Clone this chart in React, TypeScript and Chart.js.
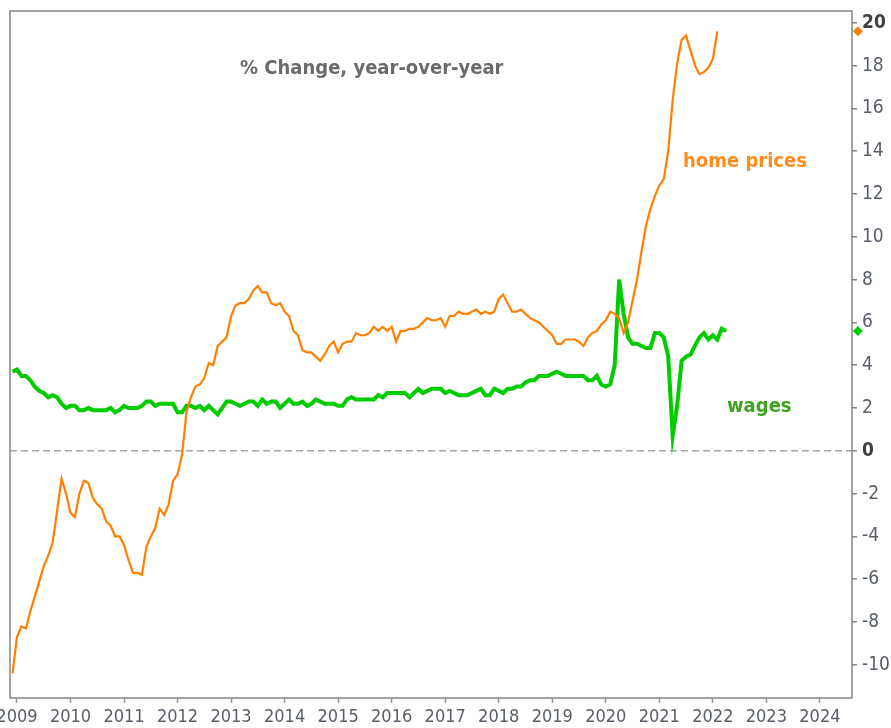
import React, { useEffect, useRef } from 'react';
import { Chart, registerables } from 'chart.js';

Chart.register(...registerables);

// ---- data (monthly, first point = Dec 2008) ----
const START_YEAR = 2008;
const START_MONTH = 12;

const homePrices: number[] = [
  -10.4, -8.7, -8.2, -8.3, -7.5, -6.8, -6.1, -5.4, -4.9, -4.3,
  -2.8, -1.3, -2.0, -2.9, -3.1, -2.0, -1.4, -1.5, -2.2, -2.5,
  -2.7, -3.3, -3.5, -4.0, -4.0, -4.4, -5.1, -5.7, -5.7, -5.8,
  -4.5, -4.0, -3.6, -2.7, -3.0, -2.5, -1.4, -1.1, -0.2, 1.8,
  2.5, 3.0, 3.1, 3.4, 4.1, 4.0, 4.9, 5.1, 5.3, 6.3,
  6.8, 6.9, 6.9, 7.1, 7.5, 7.7, 7.4, 7.4, 6.9, 6.8,
  6.9, 6.5, 6.3, 5.6, 5.4, 4.7, 4.6, 4.6, 4.4, 4.2,
  4.5, 4.9, 5.1, 4.6, 5.0, 5.1, 5.1, 5.5, 5.4, 5.4,
  5.5, 5.8, 5.6, 5.8, 5.6, 5.8, 5.1, 5.6, 5.6, 5.7,
  5.7, 5.8, 6.0, 6.2, 6.1, 6.1, 6.2, 5.8, 6.3, 6.3,
  6.5, 6.4, 6.4, 6.5, 6.6, 6.4, 6.5, 6.4, 6.5, 7.1,
  7.3, 6.9, 6.5, 6.5, 6.6, 6.4, 6.2, 6.1, 6.0, 5.8,
  5.6, 5.4, 5.0, 5.0, 5.2, 5.2, 5.2, 5.1, 4.9, 5.3,
  5.5, 5.6, 5.9, 6.1, 6.5, 6.4, 6.2, 5.5, 6.0, 7.0,
  8.0, 9.3, 10.5, 11.3, 11.9, 12.4, 12.7, 14.0, 16.4, 18.1,
  19.2, 19.4, 18.7, 18.0, 17.6, 17.7, 17.9, 18.3, 19.6,
];

const wages: number[] = [
  3.7, 3.8, 3.5, 3.5, 3.3, 3.0, 2.8, 2.7, 2.5, 2.6,
  2.5, 2.2, 2.0, 2.1, 2.1, 1.9, 1.9, 2.0, 1.9, 1.9,
  1.9, 1.9, 2.0, 1.8, 1.9, 2.1, 2.0, 2.0, 2.0, 2.1,
  2.3, 2.3, 2.1, 2.2, 2.2, 2.2, 2.2, 1.8, 1.8, 2.1,
  2.1, 2.0, 2.1, 1.9, 2.1, 1.9, 1.7, 2.0, 2.3, 2.3,
  2.2, 2.1, 2.2, 2.3, 2.3, 2.1, 2.4, 2.2, 2.3, 2.3,
  2.0, 2.2, 2.4, 2.2, 2.2, 2.3, 2.1, 2.2, 2.4, 2.3,
  2.2, 2.2, 2.2, 2.1, 2.1, 2.4, 2.5, 2.4, 2.4, 2.4,
  2.4, 2.4, 2.6, 2.5, 2.7, 2.7, 2.7, 2.7, 2.7, 2.5,
  2.7, 2.9, 2.7, 2.8, 2.9, 2.9, 2.9, 2.7, 2.8, 2.7,
  2.6, 2.6, 2.6, 2.7, 2.8, 2.9, 2.6, 2.6, 2.9, 2.8,
  2.7, 2.9, 2.9, 3.0, 3.0, 3.2, 3.3, 3.3, 3.5, 3.5,
  3.5, 3.6, 3.7, 3.6, 3.5, 3.5, 3.5, 3.5, 3.5, 3.3,
  3.3, 3.5, 3.1, 3.0, 3.1, 4.0, 8.0, 6.4, 5.3, 5.0,
  5.0, 4.9, 4.8, 4.8, 5.5, 5.5, 5.3, 4.4, 0.7, 2.1,
  4.2, 4.4, 4.5, 4.9, 5.3, 5.5, 5.2, 5.4, 5.2, 5.7, 5.6,
];

const yearTicks: number[] = [2009, 2010, 2011, 2012, 2013, 2014, 2015, 2016, 2017, 2018, 2019, 2020, 2021, 2022, 2023, 2024];
const valueTicks: number[] = [-10, -8, -6, -4, -2, 0, 2, 4, 6, 8, 10, 12, 14, 16, 18, 20];
const boldTicks: number[] = [0, 20];

const TITLE = '% Change, year-over-year';
const HOME_LABEL = 'home prices';
const WAGE_LABEL = 'wages';

const X_MIN = 2008.87;
const X_MAX = 2024.6;
const MARKER_X = 2024.71;
const Y_MIN = -11.55;
const Y_MAX = 20.55;

const ORANGE = '#ff8000';
const GREEN = '#00cc00';
const NARROW = "'Liberation Sans Narrow', 'DejaVu Sans Condensed', sans-serif";
const COND = "'DejaVu Sans Condensed', 'DejaVu Sans', sans-serif";

const toPoints = (vals: number[]) =>
  vals.map((v, i) => ({ x: START_YEAR + (START_MONTH - 1 + i) / 12, y: v }));

const framePlugin = {
  id: 'frameAndText',
  beforeDatasetsDraw(chart: any) {
    const { ctx, chartArea: a } = chart;
    ctx.save();
    ctx.strokeStyle = '#858585';
    ctx.lineWidth = 1.5;
    ctx.strokeRect(a.left, a.top, a.right - a.left, a.bottom - a.top);
    ctx.restore();
  },
  afterDraw(chart: any) {
    const { ctx } = chart;
    ctx.save();
    ctx.textBaseline = 'alphabetic';
    ctx.textAlign = 'left';
    ctx.font = `bold 20px ${COND}`;
    ctx.fillStyle = '#6b6b6b';
    ctx.fillText(TITLE, 240, 74);
    ctx.fillStyle = '#ff8c1a';
    ctx.fillText(HOME_LABEL, 683, 167);
    ctx.fillStyle = '#3fa320';
    ctx.fillText(WAGE_LABEL, 727, 412);
    ctx.restore();
  },
};

export default function App() {
  const ref = useRef<HTMLCanvasElement | null>(null);

  useEffect(() => {
    if (!ref.current) return;
    const marker = (val: number, color: string) => ({
      label: 'last',
      data: [{ x: MARKER_X, y: val }],
      showLine: false,
      pointStyle: 'rectRot',
      pointRadius: 5,
      pointHoverRadius: 10,
      backgroundColor: color,
      borderColor: color,
      pointBorderWidth: 0,
      borderWidth: 0,
      clip: false,
    });
    const chart = new Chart(ref.current, {
      type: 'line',
      data: {
        datasets: [
          {
            label: 'home prices',
            data: toPoints(homePrices),
            borderColor: ORANGE,
            borderWidth: 2.2,
            pointRadius: 0,
            tension: 0,
          },
          {
            label: 'wages',
            data: toPoints(wages),
            borderColor: GREEN,
            borderWidth: 4,
            pointRadius: 0,
            tension: 0,
          },
          marker(homePrices[homePrices.length - 1], ORANGE) as any,
          marker(wages[wages.length - 1], GREEN) as any,
        ],
      },
      options: {
        responsive: false,
        animation: false,
        events: [],
        layout: { padding: { left: 9, top: 11, right: 0, bottom: 0 } },
        plugins: { legend: { display: false }, tooltip: { enabled: false } },
        scales: {
          x: {
            type: 'linear',
            position: 'bottom',
            min: X_MIN,
            max: X_MAX,
            afterBuildTicks: (scale: any) => {
              scale.ticks = yearTicks.map((v) => ({ value: v }));
            },
            afterFit: (scale: any) => {
              scale.height = 30;
              scale.paddingLeft = 0;
              scale.paddingRight = 0;
            },
            border: { display: false },
            grid: {
              drawOnChartArea: false,
              drawTicks: true,
              tickLength: 5,
              tickColor: '#9a9a9a',
              tickWidth: 1.5,
            },
            ticks: {
              autoSkip: false,
              maxRotation: 0,
              padding: 4,
              color: '#595f69',
              font: { family: NARROW, size: 18 },
              callback: (v: any) => String(v),
            },
          },
          y: {
            type: 'linear',
            position: 'right',
            min: Y_MIN,
            max: Y_MAX,
            afterBuildTicks: (scale: any) => {
              scale.ticks = valueTicks.map((v) => ({ value: v }));
            },
            afterFit: (scale: any) => {
              scale.width = 39;
              scale.paddingTop = 0;
              scale.paddingBottom = 0;
            },
            border: { display: false, dash: [7, 4] },
            grid: {
              drawOnChartArea: true,
              drawTicks: true,
              tickLength: 5,
              tickColor: '#858585',
              tickWidth: 1.5,
              lineWidth: 1.5,
              color: (ctx: any) => (ctx.tick && ctx.tick.value === 0 ? '#a6a6a6' : 'rgba(0,0,0,0)'),
            },
            ticks: {
              autoSkip: false,
              padding: 5,
              color: (ctx: any) => (ctx.tick && boldTicks.includes(ctx.tick.value) ? '#404040' : '#595f69'),
              font: (ctx: any) => ({
                family: NARROW,
                size: 19,
                weight: ctx.tick && boldTicks.includes(ctx.tick.value) ? 'bold' : 'normal',
              }),
              callback: (v: any) => String(v),
            },
          },
        },
      },
      plugins: [framePlugin],
    } as any);
    return () => chart.destroy();
  }, []);

  return (
    <div style={{ position: 'absolute', left: 0, top: 0, width: 891, height: 728, background: '#fff' }}>
      <canvas ref={ref} width={891} height={728} style={{ display: 'block' }} />
    </div>
  );
}
